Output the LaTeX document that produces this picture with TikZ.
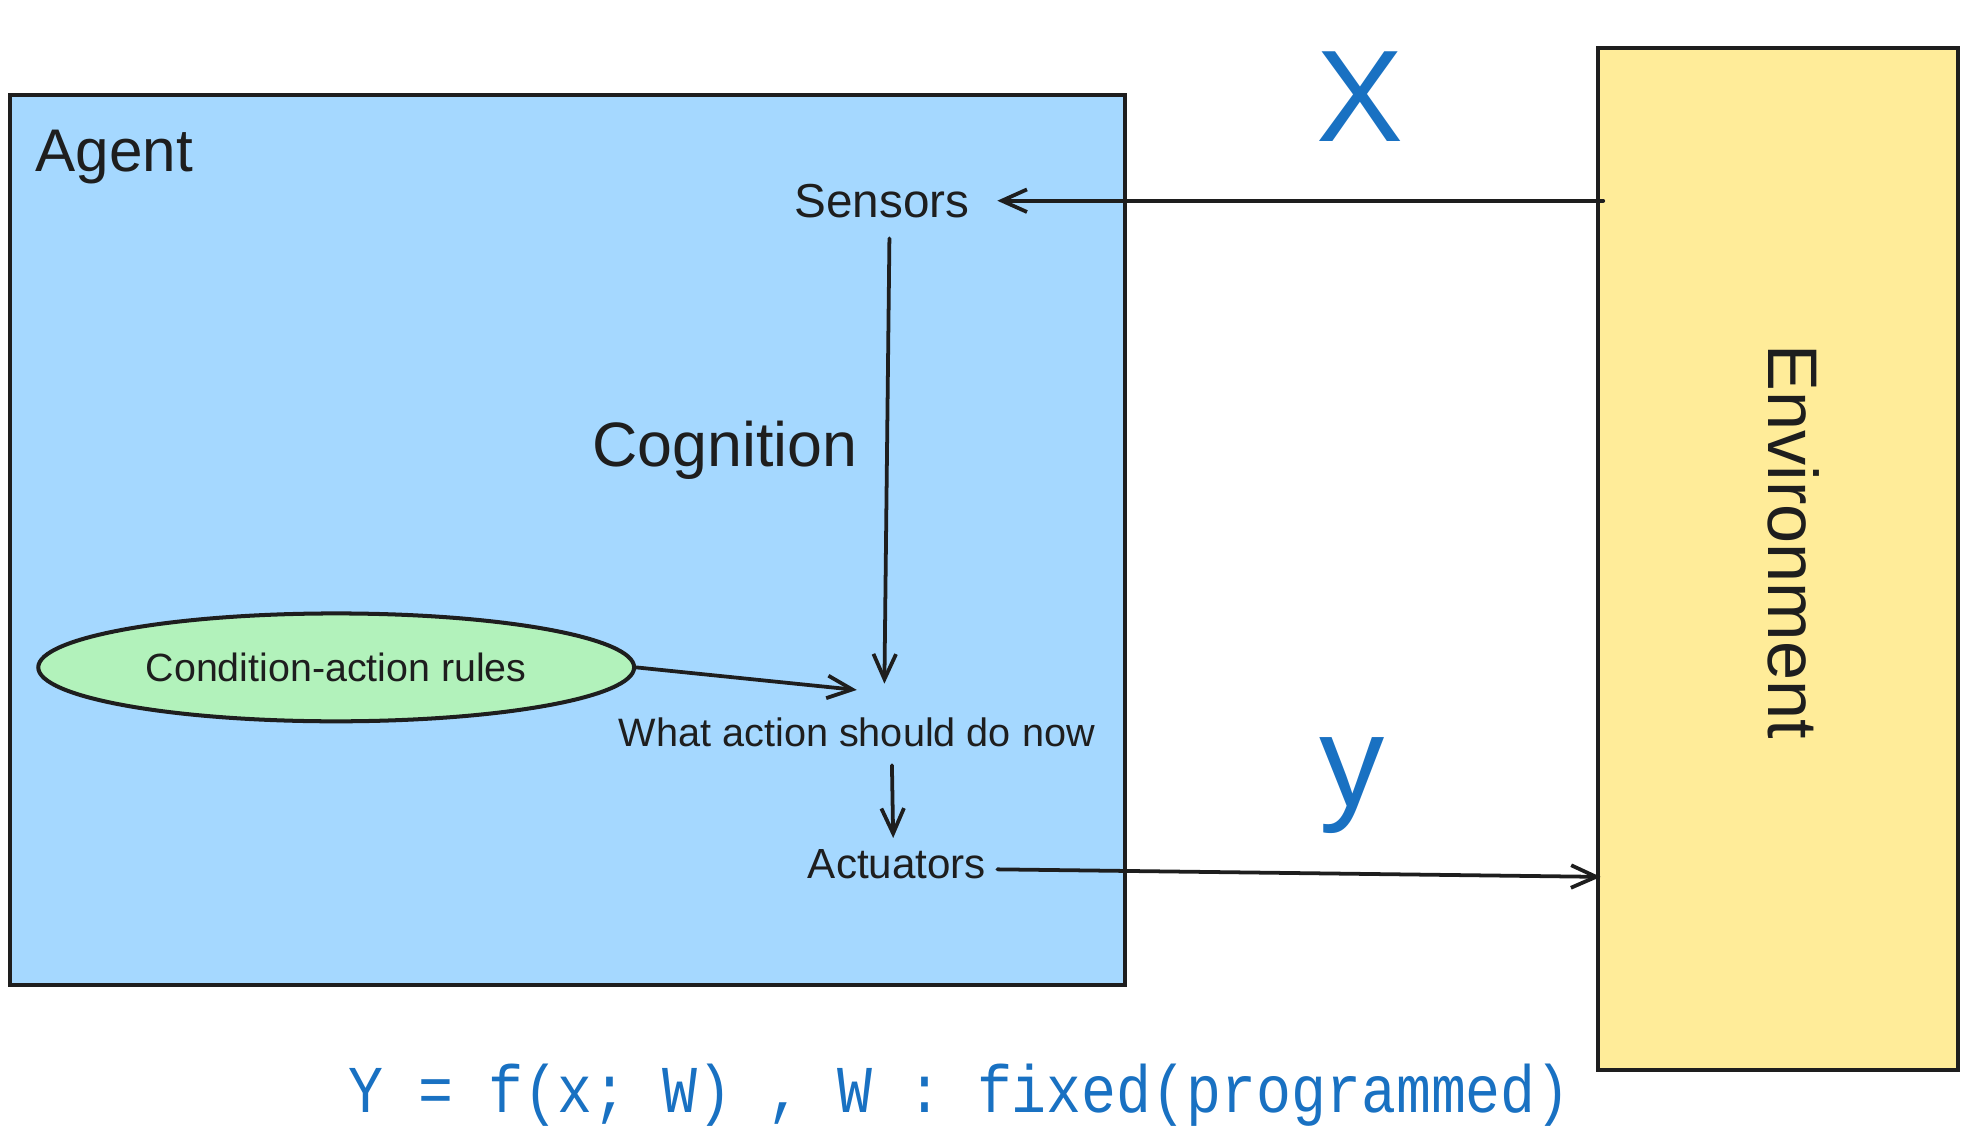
\documentclass[tikz,border=0pt]{standalone}
\usepackage{fontspec}
\setmainfont{Liberation Sans}
\newfontfamily\monofont{Liberation Mono}
\usetikzlibrary{arrows.meta,shapes.geometric,calc}
\definecolor{agentblue}{HTML}{A5D8FF}
\definecolor{envyellow}{HTML}{FFEC99}
\definecolor{rulegreen}{HTML}{B2F2BB}
\definecolor{ink}{HTML}{1E1E1E}
\definecolor{textblue}{HTML}{1971C2}
\tikzset{
  boxstyle/.style={draw=ink, line width=1.6pt, inner sep=0pt},
  lbl/.style={text=ink, inner sep=0pt, anchor=center},
  arr/.style={draw=ink, line width=1.5pt, line cap=round, -{Straight Barb[length=10pt,width=9pt,line width=1.5pt]}},
  bigvar/.style={text=textblue, inner sep=0pt, font=\fontsize{52}{60}\selectfont},
}
\begin{document}
\begin{tikzpicture}[x=0.5pt,y=-0.5pt]
\useasboundingbox (0,0) rectangle (1568,915);
% boxes
\node[boxstyle, fill=agentblue, minimum width=444.5pt, minimum height=354.5pt] (agent) at (452.5,430.5) {};
\node[boxstyle, fill=envyellow, minimum width=143.5pt, minimum height=407.5pt] (env) at (1417.5,445.5) {};
% texts
\node[lbl, font=\fontsize{24}{28}\selectfont] (agentlbl) at (91,125) {Agent};
\node[lbl, font=\fontsize{19}{23}\selectfont] (sensors) at (703,160) {Sensors};
\node[lbl, font=\fontsize{25}{30}\selectfont] (cognition) at (578,359) {Cognition};
\node[ellipse, draw=ink, line width=1.6pt, fill=rulegreen, minimum width=237.5pt, minimum height=43pt, inner sep=0pt, text=ink, font=\fontsize{15.7}{19}\selectfont] (rules) at (268,532) {Condition-action rules};
\node[lbl, font=\fontsize{15.8}{19}\selectfont] (what) at (683,584) {What action should do now};
\node[lbl, font=\fontsize{16.8}{20}\selectfont] (act) at (715,689) {Actuators};
\node[lbl, font=\fontsize{28}{32}\selectfont, rotate=-90] (envlbl) at (1430,432) {Environment};
\node[bigvar] (xvar) at (1084,77) {X};
\node[bigvar] (yvar) at (1078,626) {y};
\node[text=textblue, inner sep=0pt, font=\monofont\fontsize{23.2}{28}\selectfont] (formula) at (765,873) {\scalebox{1}[1.15]{Y = f(x; W) , W : fixed(programmed)}};
% connector end points
\coordinate (xin) at (1278,160);
\coordinate (sensin) at (795,160);
\coordinate (sensout) at (709,190);
\coordinate (whatin) at (705,545);
\coordinate (whatin2) at (683,550);
\coordinate (whatout) at (711,610);
\coordinate (actin) at (712,668);
\coordinate (actout) at (795,693);
\coordinate (yout) at (1276,699);
% connectors
\draw[arr] (xin) -- (sensin);
\draw[arr] (sensout) -- (whatin);
\draw[arr] (rules.east) -- (whatin2);
\draw[arr] (whatout) -- (actin);
\draw[arr] (actout) -- (yout);
\end{tikzpicture}
\end{document}
